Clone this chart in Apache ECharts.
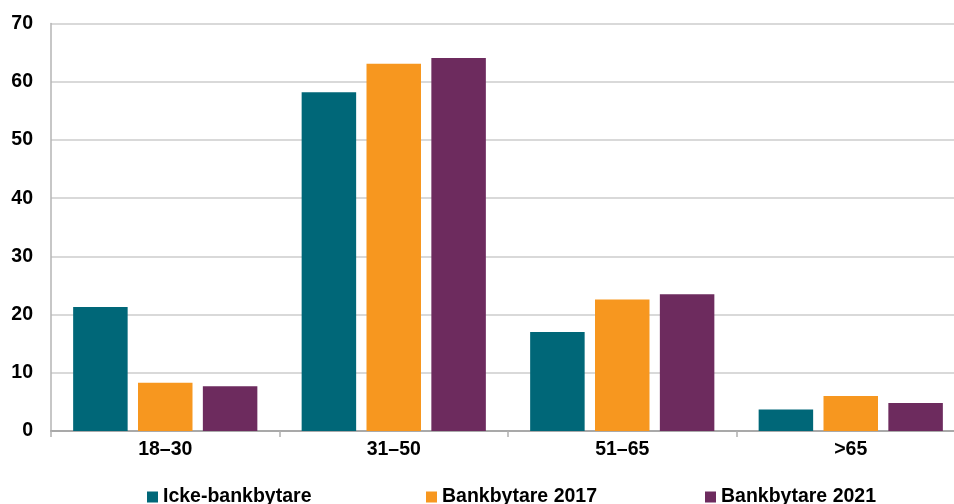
<!DOCTYPE html>
<html>
<head>
<meta charset="utf-8">
<script src="https://cdn.jsdelivr.net/npm/echarts@6/dist/echarts.min.js"></script>
<style>
  html, body { margin: 0; padding: 0; background: #fff; overflow: hidden; width: 954px; height: 504px; }
  /* canvas is wider than the viewport: the plot area runs past the right edge */
  #chart { width: 966px; height: 504px; }
</style>
</head>
<body>
<div id="chart"></div>
<script>
// Age groups and share (%) per group
const categories = ['18–30', '31–50', '51–65', '>65'];
const seriesNames = ['Icke-bankbytare', 'Bankbytare 2017', 'Bankbytare 2021'];
const ickeBankbytare = [21.3, 58.2, 17.0, 3.7];
const bankbytare2017 = [8.3, 63.1, 22.6, 6.0];
const bankbytare2021 = [7.7, 64.1, 23.5, 4.8];
const yTicks = [0, 10, 20, 30, 40, 50, 60, 70];

const colors = ['#006778', '#F7971F', '#6D2B5E'];
const font = 'Liberation Sans, Arial, sans-serif';
const values = [ickeBankbytare, bankbytare2017, bankbytare2021];

const chart = echarts.init(document.getElementById('chart'), null, { renderer: 'canvas' });

const legendLefts = [147, 426, 705];

chart.setOption({
  animation: false,
  backgroundColor: '#ffffff',
  grid: { left: 51, width: 914, top: 23.6, height: 407.4 },
  legend: seriesNames.map((name, i) => ({
    data: [name],
    left: legendLefts[i],
    top: 487,
    itemWidth: 11,
    itemHeight: 11,
    itemGap: 0,
    padding: 0,
    icon: 'rect',
    textStyle: { fontFamily: font, fontWeight: 'bold', fontSize: 19.5, color: '#000', padding: [0, 0, 0, 0] }
  })),
  xAxis: {
    type: 'category',
    data: categories,
    axisLine: { show: true, lineStyle: { color: '#a9a9a9', width: 2 } },
    axisTick: { show: true, length: 6, lineStyle: { color: '#b0b0b0', width: 1.5 } },
    axisLabel: { fontFamily: font, fontWeight: 'bold', fontSize: 19.5, color: '#000', margin: 9 },
    splitLine: { show: false }
  },
  yAxis: {
    type: 'value',
    min: yTicks[0],
    max: yTicks[yTicks.length - 1],
    interval: 10,
    axisLine: { show: true, lineStyle: { color: '#b4b4b4', width: 1.5 } },
    axisTick: { show: false },
    axisLabel: { fontFamily: font, fontWeight: 'bold', fontSize: 19.5, color: '#000', margin: 18 },
    splitLine: { show: true, lineStyle: { color: '#cccccc', width: 1.5 } }
  },
  series: seriesNames.map((name, i) => ({
    name: name,
    type: 'bar',
    data: values[i],
    barWidth: 54.5,
    barGap: '19%',
    itemStyle: { color: colors[i] }
  }))
});
</script>
</body>
</html>
